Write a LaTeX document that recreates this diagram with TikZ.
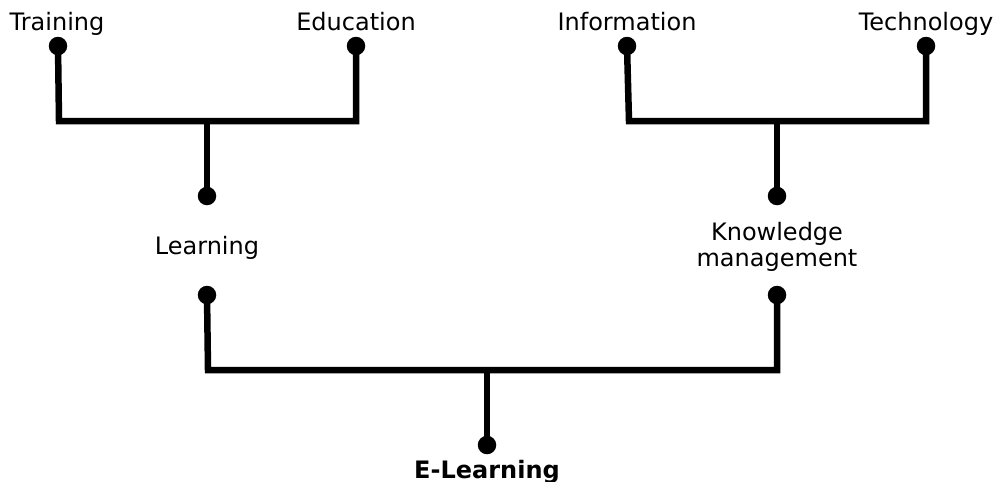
\documentclass[tikz,border=0pt]{standalone}
\usepackage{fontspec}
\setmainfont{DejaVu Sans}
\begin{document}
\begin{tikzpicture}[x=1pt,y=-1pt,
  dot/.style={circle,fill=black,inner sep=0pt,minimum size=18.5pt},
  conn/.style={line width=6.5pt,line join=miter,line cap=butt},
  lbl/.style={anchor=base,inner sep=0pt,font=\fontsize{24}{26}\selectfont},
  mlbl/.style={anchor=center,inner sep=0pt,align=center,font=\fontsize{24}{26}\selectfont}]
\useasboundingbox (0,0) rectangle (999,482);
% dots
\node[dot] (dtr) at (58,46) {};
\node[dot] (ded) at (356,46) {};
\node[dot] (din) at (627,46) {};
\node[dot] (dte) at (926,46) {};
\node[dot] (dlu) at (207,196) {};
\node[dot] (dku) at (777,196) {};
\node[dot] (dld) at (207,295) {};
\node[dot] (dkd) at (777,295) {};
\node[dot] (del) at (487,445) {};
% labels
\node[lbl] (ttr) at (57,30) {Training};
\node[lbl] (ted) at (356,30) {Education};
\node[lbl] (tin) at (627,30) {Information};
\node[lbl] (tte) at (926,30) {Technology};
\node[lbl] (tle) at (207,254) {Learning};
\node[mlbl] (tkm) at (777,247) {Knowledge\\management};
\node[lbl,font=\fontsize{24}{26}\selectfont\bfseries] (tel) at (487,478) {E-Learning};
% bracket corners
\coordinate (c1) at (59,121);
\coordinate (c2) at (356,121);
\coordinate (m1) at (207,121);
\coordinate (c3) at (629,121);
\coordinate (c4) at (926,121);
\coordinate (m2) at (777,121);
\coordinate (c5) at (208,370);
\coordinate (c6) at (777,370);
\coordinate (m3) at (487,370);
% connectors
\draw[conn] (dtr.center) -- (c1) -- (c2) -- (ded.center);
\draw[conn] (m1) -- (dlu.center);
\draw[conn] (din.center) -- (c3) -- (c4) -- (dte.center);
\draw[conn] (m2) -- (dku.center);
\draw[conn] (dld.center) -- (c5) -- (c6) -- (dkd.center);
\draw[conn] (m3) -- (del.center);
\end{tikzpicture}
\end{document}
